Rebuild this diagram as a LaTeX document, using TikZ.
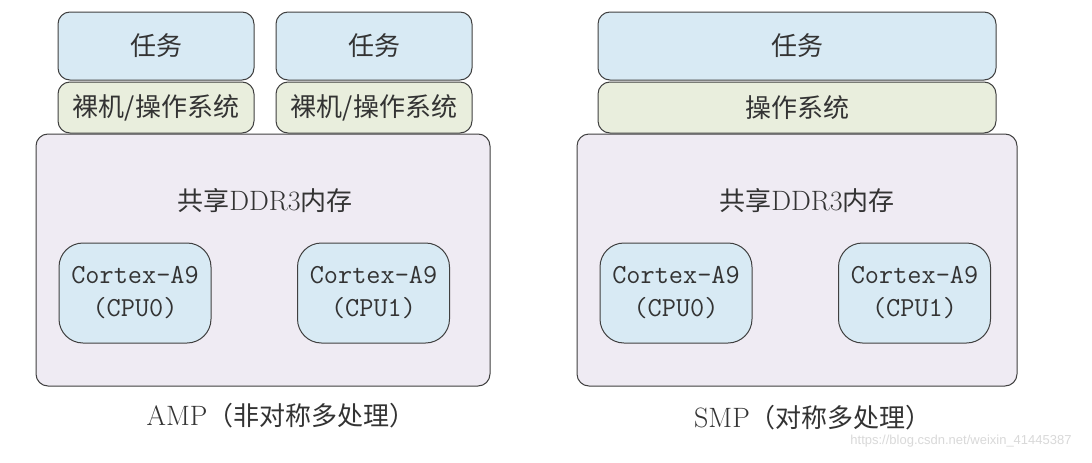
\documentclass[tikz,border=0pt]{standalone}
\usepackage{fontspec}
\newfontfamily\cjk{Noto Sans CJK SC}
\newfontfamily\wm{Liberation Sans}
\newcommand{\lat}[1]{{\rmfamily\fontsize{28}{30}\selectfont #1}}
\definecolor{taskfill}{HTML}{D8EAF4}
\definecolor{osfill}{HTML}{E9EEDD}
\definecolor{memfill}{HTML}{EFEBF3}
\definecolor{edge}{HTML}{404040}
\definecolor{txt}{HTML}{333333}
\begin{document}
\begin{tikzpicture}[x=1pt,y=-1pt,
  box/.style={draw=edge,line width=1pt,rounded corners=12pt,inner sep=0pt,text=txt},
  taskbox/.style={box,fill=taskfill,font=\cjk\fontsize{26}{30}\selectfont},
  osbox/.style={box,fill=osfill,font=\cjk\fontsize{26}{30}\selectfont},
  membox/.style={box,fill=memfill},
  cpubox/.style={box,fill=taskfill,rounded corners=24pt,minimum width=152pt,minimum height=100pt,align=center,font=\ttfamily\fontsize{27.5}{33}\selectfont},
  lbl/.style={text=txt,inner sep=0pt,font=\cjk\fontsize{26}{30}\selectfont}]
\useasboundingbox (0,0) rectangle (1092,463);
\fill[white] (0,0) rectangle (1092,463);
% AMP
\node[membox,minimum width=454pt,minimum height=252pt] (m1) at (263,260) {};
\node[taskbox,minimum width=196pt,minimum height=68pt] (t1) at (156,46) {任务};
\node[taskbox,minimum width=196pt,minimum height=68pt] (t2) at (374,46) {任务};
\node[osbox,minimum width=196pt,minimum height=51pt] (o1) at (156,107.5) {裸机/操作系统};
\node[osbox,minimum width=196pt,minimum height=51pt] (o2) at (374,107.5) {裸机/操作系统};
\node[lbl] (d1) at (265,201) {共享\lat{DDR3}内存};
\node[cpubox] (c0) at (135,293) {Cortex-A9\\(CPU0)};
\node[cpubox] (c1) at (373.5,293) {Cortex-A9\\(CPU1)};
\node[lbl] (amp) at (281,416) {\lat{AMP}（非对称多处理）};
% SMP
\node[membox,minimum width=440pt,minimum height=252pt] (ms) at (797,260) {};
\node[taskbox,minimum width=398pt,minimum height=68pt] (ts) at (797,46) {任务};
\node[osbox,minimum width=398pt,minimum height=51pt] (os) at (797,107.5) {操作系统};
\node[lbl] (d2) at (807,201) {共享\lat{DDR3}内存};
\node[cpubox] (s0) at (676,293) {Cortex-A9\\(CPU0)};
\node[cpubox] (s1) at (914.5,293) {Cortex-A9\\(CPU1)};
\node[lbl] (smp) at (813,418) {\lat{SMP}（对称多处理）};
\node[text=gray!30,inner sep=0pt,font=\wm\fontsize{13}{15}\selectfont] (wmk) at (961,441) {https://blog.csdn.net/weixin\_41445387};
\end{tikzpicture}
\end{document}
